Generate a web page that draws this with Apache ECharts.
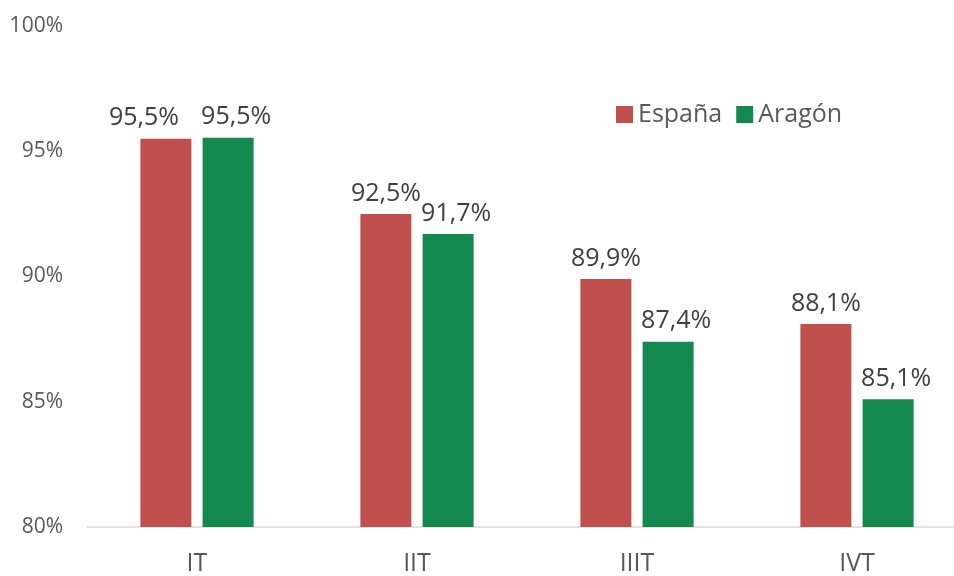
<!DOCTYPE html>
<html>
<head>
<meta charset="utf-8">
<script src="https://cdn.jsdelivr.net/npm/echarts@6/dist/echarts.min.js"></script>
<style>html,body{margin:0;padding:0;background:#fff;}#c{width:954px;height:576px;}</style>
</head>
<body>
<div id="c"></div>
<script>
var categories = ['IT', 'IIT', 'IIIT', 'IVT'];
var espana = [95.5, 92.5, 89.9, 88.1];
var aragon = [95.54, 91.7, 87.4, 85.1];
var seriesNames = ['España', 'Aragón'];

var FONT = '"Open Sans", "Noto Sans", sans-serif';
var chart = echarts.init(document.getElementById('c'));
function fmt(p) { return p.value.toFixed(1).replace('.', ',') + '%'; }
var labelBase = { show: true, position: 'top', distance: 8, fontSize: 25, color: '#404040', fontFamily: FONT, formatter: fmt };
chart.setOption({
  animation: false,
  textStyle: { fontFamily: FONT },
  grid: { left: 87, width: 880, top: 26, bottom: 49, outerBoundsMode: 'none', containLabel: false },
  legend: {
    data: seriesNames,
    left: 611, top: 97,
    itemWidth: 17, itemHeight: 17, itemGap: 14,
    icon: 'rect',
    textStyle: { fontSize: 25, color: '#595959', fontFamily: FONT }
  },
  xAxis: {
    type: 'category',
    data: categories,
    axisLine: { lineStyle: { color: '#D9D9D9', width: 1.5 } },
    axisTick: { show: false },
    axisLabel: { fontSize: 25, color: '#595959', margin: 24, fontFamily: FONT }
  },
  yAxis: {
    type: 'value',
    min: 80, max: 100, interval: 5,
    splitLine: { show: false },
    axisLine: { show: false },
    axisTick: { show: false },
    axisLabel: { fontSize: 21, color: '#595959', margin: 24, fontFamily: FONT, formatter: '{value}%' }
  },
  series: [
    {
      name: seriesNames[0], type: 'bar',
      data: espana.map(function (v, i) {
        return i === 0 ? { value: v, label: { offset: [-22, 0] } } : v;
      }),
      barWidth: 51, barGap: '22%',
      itemStyle: { color: '#C0504D' },
      label: labelBase
    },
    {
      name: seriesNames[1], type: 'bar', data: aragon,
      barWidth: 51,
      itemStyle: { color: '#13884F' },
      label: Object.assign({}, labelBase, { offset: [8, 0] })
    }
  ]
});
</script>
</body>
</html>
